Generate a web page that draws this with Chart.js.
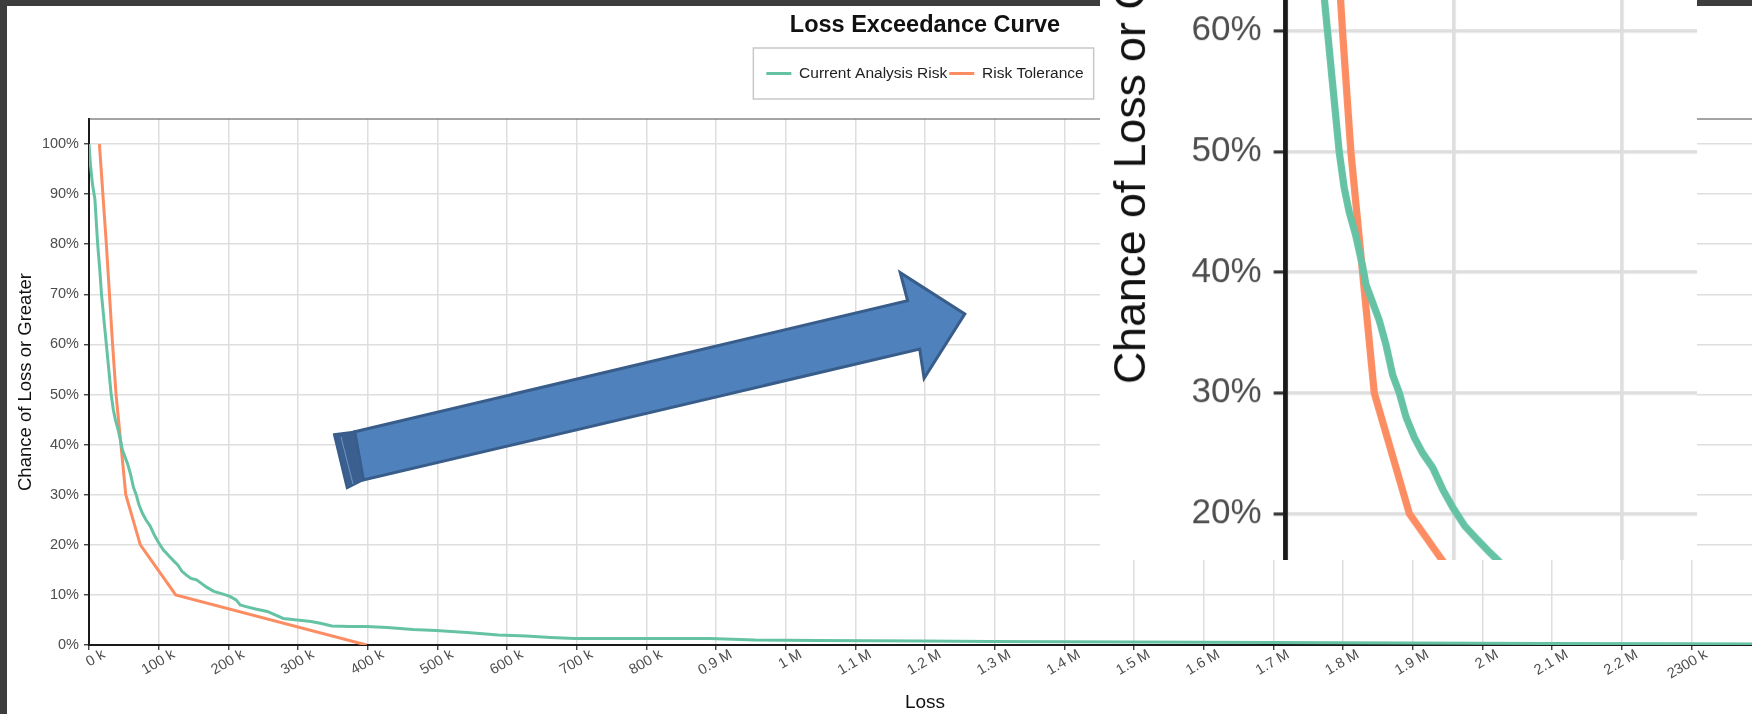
<!DOCTYPE html>
<html>
<head>
<meta charset="utf-8">
<script src="https://cdn.jsdelivr.net/npm/chart.js@4.4.1/dist/chart.umd.min.js"></script>
<style>
    html, body { margin: 0; padding: 0; width: 1752px; height: 714px; overflow: hidden; background: #3d3d3d; }
    #panel { position: absolute; left: 7px; top: 6px; width: 1836px; height: 708px; background: #fff; }
    #arrow { position: absolute; left: 0; top: 0; }
    #inset { position: absolute; left: 1100px; top: 0; width: 597px; height: 560px; overflow: hidden; background: #fff; }
    #insetInner { position: absolute; left: 0; top: 0; width: 1836px; height: 708px; transform-origin: 0 0; }
</style>
</head>
<body>
<div id="panel"><canvas id="lecChart"></canvas></div>

<svg id="arrow" width="1752" height="714">
    <polygon points="354.7,431.7 907.6,300.7 900.2,272.7 964.8,314 924.1,378.3 919.7,349 363.4,480"
             fill="#4f81bd" stroke="#385d8a" stroke-width="3" stroke-linejoin="miter"/>
    <polygon points="333.9,434.3 354.7,431.7 363.4,480 346.9,488.3"
             fill="#3b6090" stroke="#385d8a" stroke-width="2"/>
    <line x1="341" y1="437" x2="353" y2="484" stroke="#6d95c9" stroke-width="1"/>
</svg>

<div id="inset"><div id="insetInner"><canvas id="zoomChart"></canvas></div></div>

<script>
// loss exceedance data
var currentLoss = [0, 2000, 5000, 8500, 12500, 15500, 18000, 21500, 25000, 28500,
    32000, 35000, 38000, 42000, 46000, 48000, 52000, 56000, 60000, 64000,
    68000, 72000, 77000, 82000, 88000, 94000, 100000, 107000, 115000, 122000,
    128000, 134000, 140000, 147000, 155000, 162000, 170000, 180000, 192000, 203000,
    212000, 218000, 225000, 240000, 257000, 265000, 280000, 300000, 320000, 335000,
    350000, 375000, 400000, 430000, 467000, 500000, 545000, 590000, 630000, 665000,
    700000, 800000, 895000, 960000, 1050000, 1200000, 1300000, 1500000, 1700000, 1900000,
    2100000, 2300000, 2450000];
var currentChance = [1.00, 0.96, 0.92, 0.89, 0.80, 0.75, 0.70, 0.65, 0.60, 0.55,
    0.50, 0.47, 0.45, 0.43, 0.405, 0.39, 0.375, 0.36, 0.34, 0.315,
    0.30, 0.28, 0.263, 0.25, 0.238, 0.22, 0.205, 0.19, 0.178, 0.168,
    0.16, 0.147, 0.14, 0.133, 0.13, 0.123, 0.115, 0.107, 0.102, 0.097,
    0.09, 0.08, 0.077, 0.072, 0.067, 0.062, 0.053, 0.05, 0.047, 0.043,
    0.038, 0.037, 0.037, 0.035, 0.031, 0.029, 0.025, 0.02, 0.018, 0.015,
    0.013, 0.013, 0.013, 0.01, 0.009, 0.008, 0.007, 0.006, 0.005, 0.004,
    0.003, 0.0025, 0.002];

var toleranceLoss = [15000, 20000, 25000, 29500, 34000, 39000, 46000, 53000, 74000, 125000, 400000];
var toleranceChance = [1.0, 0.9, 0.8, 0.7, 0.6, 0.5, 0.4, 0.3, 0.2, 0.1, 0.0];

var xTickLabels = ['0 k', '100 k', '200 k', '300 k', '400 k', '500 k', '600 k', '700 k', '800 k',
    '0.9 M', '1 M', '1.1 M', '1.2 M', '1.3 M', '1.4 M', '1.5 M', '1.6 M', '1.7 M', '1.8 M',
    '1.9 M', '2 M', '2.1 M', '2.2 M', '2300 k'];
var yTickLabels = ['0%', '10%', '20%', '30%', '40%', '50%', '60%', '70%', '80%', '90%', '100%'];

var fontFamily = "'Liberation Sans', Arial, sans-serif";
var ZOOM = 2.41;

function toPoints(xs, ys) {
    var pts = [];
    for (var i = 0; i < xs.length; i++) {
        pts.push({x: xs[i], y: ys[i]});
    }
    return pts;
}

// thin top border of the plot and the box round the legend
var framePlugin = {
    id: 'frame',
    afterDraw: function (chart) {
        var ctx = chart.ctx;
        var area = chart.chartArea;
        ctx.save();
        ctx.strokeStyle = '#4a4a4a';
        ctx.lineWidth = 1.2;
        ctx.beginPath();
        ctx.moveTo(area.left, area.top);
        ctx.lineTo(area.right, area.top);
        ctx.stroke();

        var boxes = chart.legend.legendHitBoxes;
        if (boxes && boxes.length) {
            var first = boxes[0];
            var last = boxes[boxes.length - 1];
            var cy = first.top + first.height / 2;
            ctx.strokeStyle = '#c8c8c8';
            ctx.lineWidth = 1.5;
            ctx.strokeRect(first.left - 13, cy - 25.5, last.left + last.width - first.left + 23, 51);
        }
        ctx.restore();
    }
};

function buildConfig(ratio) {
    return {
        type: 'line',
        data: {
            datasets: [
                {
                    label: 'Current Analysis Risk',
                    data: toPoints(currentLoss, currentChance),
                    borderColor: '#66c2a5',
                    backgroundColor: '#66c2a5',
                    borderWidth: 3,
                    pointRadius: 0,
                    tension: 0,
                    fill: false
                },
                {
                    label: 'Risk Tolerance',
                    data: toPoints(toleranceLoss, toleranceChance),
                    borderColor: '#fc8d62',
                    backgroundColor: '#fc8d62',
                    borderWidth: 3,
                    pointRadius: 0,
                    tension: 0,
                    fill: false
                }
            ]
        },
        options: {
            devicePixelRatio: ratio,
            responsive: true,
            maintainAspectRatio: false,
            animation: false,
            events: [],
            layout: {padding: 0},
            plugins: {
                title: {
                    display: true,
                    text: 'Loss Exceedance Curve',
                    color: '#111',
                    font: {family: fontFamily, size: 23.5, weight: 'bold', lineHeight: 1.2},
                    padding: {top: 5.9, bottom: 23.65}
                },
                subtitle: {
                    display: true,
                    text: '',
                    weight: 500,
                    font: {family: fontFamily, size: 10, lineHeight: 1},
                    padding: {top: 17.75, bottom: 0}
                },
                legend: {
                    display: true,
                    position: 'top',
                    labels: {
                        usePointStyle: true,
                        pointStyle: 'line',
                        pointStyleWidth: 25,
                        padding: 2,
                        color: '#222',
                        font: {family: fontFamily, size: 15.5}
                    }
                },
                tooltip: {enabled: false}
            },
            scales: {
                x: {
                    type: 'linear',
                    min: 0,
                    max: 2410000,
                    bounds: 'data',
                    afterFit: function (scale) { scale.height = 69; },
                    border: {color: '#1a1a1a', width: 2},
                    grid: {color: '#dedede', lineWidth: 1.5, tickColor: '#333', tickLength: 5, tickWidth: 1.3},
                    ticks: {
                        stepSize: 100000,
                        includeBounds: false,
                        autoSkip: false,
                        minRotation: 30,
                        maxRotation: 30,
                        labelOffset: 15,
                        padding: -4,
                        color: '#4d4d4d',
                        font: {family: fontFamily, size: 14.5},
                        callback: function (value) {
                            return xTickLabels[Math.round(value / 100000)] || '';
                        }
                    },
                    title: {
                        display: true,
                        text: 'Loss',
                        color: '#111',
                        font: {family: fontFamily, size: 19, lineHeight: 1.1},
                        padding: {top: 0, bottom: 1}
                    }
                },
                y: {
                    type: 'linear',
                    min: 0,
                    max: 1.05,
                    bounds: 'data',
                    afterFit: function (scale) { scale.width = 82; },
                    border: {color: '#1a1a1a', width: 2},
                    grid: {color: '#dedede', lineWidth: 1.5, tickColor: '#333', tickLength: 5, tickWidth: 1.3},
                    ticks: {
                        stepSize: 0.1,
                        includeBounds: false,
                        padding: 5,
                        color: '#4d4d4d',
                        font: {family: fontFamily, size: 14.5},
                        callback: function (value) {
                            return yTickLabels[Math.round(value * 10)];
                        }
                    },
                    title: {
                        display: true,
                        text: 'Chance of Loss or Greater',
                        color: '#111',
                        font: {family: fontFamily, size: 18.5, lineHeight: 1.1},
                        padding: {top: 8.4, bottom: 0}
                    }
                },
                // empty right-hand gutter so the plot runs past the crop while titles stay centred
                gutter: {
                    type: 'linear',
                    position: 'right',
                    display: true,
                    afterFit: function (scale) { scale.width = 82; },
                    grid: {display: false, drawOnChartArea: false, drawTicks: false},
                    border: {display: false},
                    ticks: {display: false}
                }
            }
        },
        plugins: [framePlugin]
    };
}

var lecChart = new Chart(document.getElementById('lecChart'), buildConfig(1));
var zoomChart = new Chart(document.getElementById('zoomChart'), buildConfig(ZOOM));

// place the magnified copy so 0 loss sits at x=1286 and 60% at y=30.7 of the page
var inner = document.getElementById('insetInner');
var zx = zoomChart.scales.x.getPixelForValue(0);
var zy = zoomChart.scales.y.getPixelForValue(0.6);
inner.style.left = (1286 - 1100 - zx * ZOOM) + 'px';
inner.style.top = (30.7 - zy * ZOOM) + 'px';
inner.style.transform = 'scale(' + ZOOM + ')';
</script>
</body>
</html>
